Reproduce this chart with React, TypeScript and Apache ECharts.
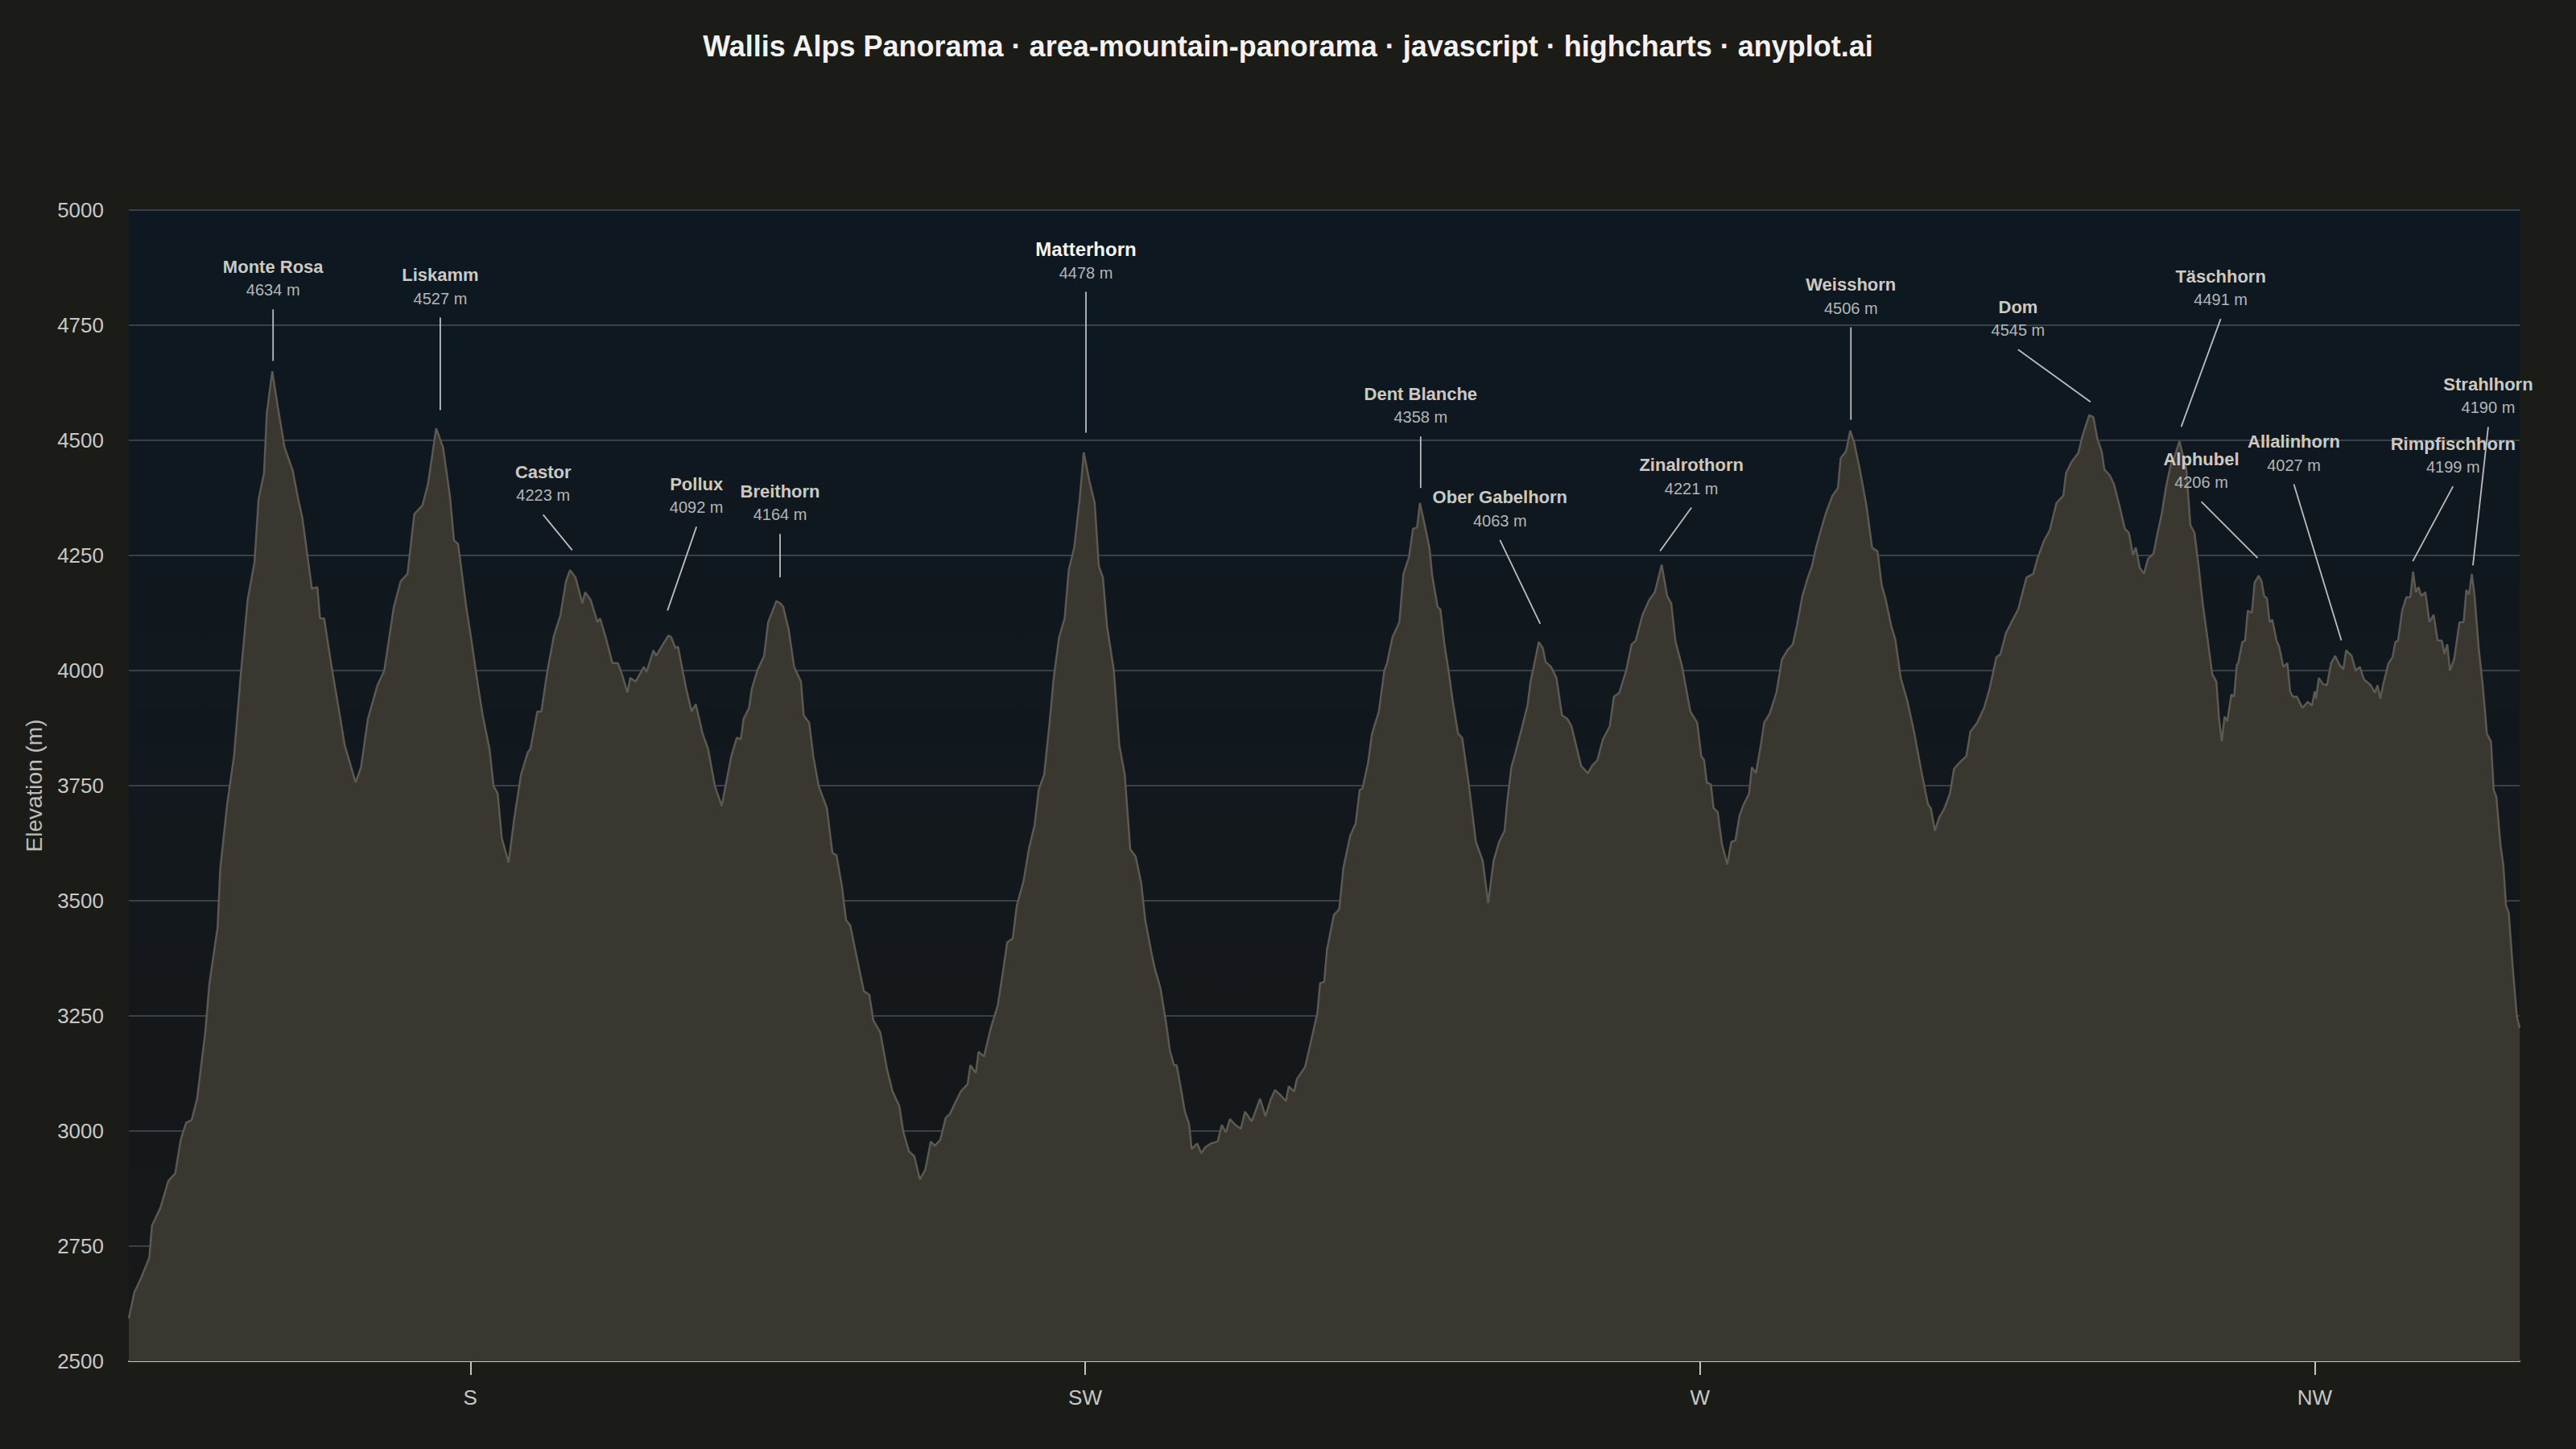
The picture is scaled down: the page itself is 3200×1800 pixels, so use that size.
import React, { useEffect, useRef } from "react";
import * as echarts from "echarts";

// Horizon profile: azimuth (degrees) and ridge elevation (m)
const AZIMUTH = [
  155.0, 155.4, 155.9, 156.5, 156.7, 157.3, 157.9, 158.4, 158.8, 159.2, 159.6, 160.0, 160.6, 160.9, 161.5, 161.7,
  162.2, 162.7, 163.2, 163.7, 164.2, 164.5, 164.9, 165.1, 165.5, 165.9, 166.4, 167.0, 167.4, 167.7, 168.4, 168.8,
  169.0, 169.3, 169.8, 170.4, 170.8, 171.2, 171.6, 172.0, 172.5, 173.2, 173.7, 174.4, 174.9, 175.4, 175.9, 176.5,
  176.9, 177.5, 178.0, 178.5, 178.8, 179.1, 179.7, 180.0, 180.6, 180.9, 181.4, 181.7, 182.0, 182.3, 182.8, 183.2,
  183.7, 184.2, 184.4, 184.9, 185.2, 185.6, 186.1, 186.6, 187.0, 187.3, 187.7, 188.2, 188.4, 188.8, 189.3, 189.5,
  189.9, 190.4, 190.8, 191.1, 191.5, 191.7, 192.1, 192.7, 192.9, 193.4, 193.6, 194.1, 194.5, 194.7, 195.0, 195.2,
  195.8, 196.2, 196.5, 197.0, 197.4, 197.9, 198.4, 199.1, 199.5, 199.8, 200.0, 200.4, 200.6, 201.0, 201.5, 201.8,
  202.4, 202.7, 202.9, 203.3, 203.7, 204.2, 204.4, 204.8, 205.1, 205.5, 206.1, 206.5, 206.8, 207.2, 207.5, 207.8,
  208.4, 208.8, 209.2, 209.5, 210.0, 210.5, 210.9, 211.4, 211.7, 212.1, 212.5, 212.9, 213.3, 213.7, 214.0, 214.4,
  214.8, 215.1, 215.5, 215.9, 216.4, 216.6, 217.0, 217.2, 217.6, 218.1, 218.6, 218.9, 219.3, 219.7, 220.0, 220.5,
  220.9, 221.3, 221.6, 222.0, 222.4, 222.7, 223.1, 223.5, 223.8, 224.2, 224.6, 224.9, 225.3, 225.7, 226.0, 226.3,
  226.6, 227.1, 227.5, 227.9, 228.3, 228.7, 229.1, 229.4, 229.9, 230.1, 230.5, 230.9, 231.2, 231.5, 231.7, 232.0,
  232.3, 232.6, 232.8, 233.2, 233.5, 233.8, 234.2, 234.7, 235.0, 235.3, 235.6, 236.0, 236.4, 236.7, 237.2, 237.8,
  238.2, 238.6, 238.9, 239.3, 239.7, 239.9, 240.3, 240.5, 241.1, 241.5, 242.0, 242.2, 242.5, 242.7, 243.2, 243.6,
  243.9, 244.4, 244.8, 245.1, 245.3, 245.7, 246.0, 246.5, 246.9, 247.1, 247.5, 248.0, 248.3, 248.7, 249.0, 249.3,
  249.5, 249.8, 250.2, 250.4, 250.8, 251.0, 251.3, 251.6, 251.9, 252.3, 252.6, 253.1, 253.6, 254.1, 254.5, 254.9,
  255.3, 255.7, 255.9, 256.2, 256.5, 257.0, 257.4, 257.6, 258.0, 258.2, 258.5, 258.7, 259.1, 259.5, 259.9, 260.3,
  260.6, 261.0, 261.3, 261.8, 262.1, 262.5, 262.9, 263.4, 263.7, 264.1, 264.6, 265.0, 265.3, 265.8, 266.3, 266.7,
  267.2, 267.6, 267.9, 268.2, 268.7, 269.3, 269.8, 270.1, 270.3, 270.5, 270.8, 271.0, 271.3, 271.6, 272.0, 272.3,
  272.6, 272.9, 273.2, 273.6, 273.8, 274.1, 274.5, 274.7, 275.1, 275.6, 276.0, 276.4, 276.8, 277.1, 277.5, 277.9,
  278.2, 278.5, 278.8, 279.2, 279.7, 280.1, 280.3, 280.7, 281.0, 281.3, 281.7, 282.2, 282.6, 283.0, 283.3, 283.6,
  284.0, 284.3, 284.7, 285.2, 285.7, 286.2, 286.7, 286.9, 287.2, 287.5, 287.9, 288.3, 288.6, 289.1, 289.5, 289.8,
  290.3, 290.8, 291.2, 291.7, 292.0, 292.4, 292.8, 293.3, 293.9, 294.4, 294.7, 295.2, 295.6, 296.1, 296.6, 296.8,
  297.2, 297.7, 298.0, 298.5, 298.8, 299.1, 299.4, 299.6, 300.0, 300.3, 300.7, 301.1, 301.4, 301.7, 301.9, 302.2,
  302.5, 302.8, 303.2, 303.5, 303.8, 304.1, 304.5, 304.7, 305.1, 305.6, 305.9, 306.2, 306.5, 306.8, 307.1, 307.5,
  307.8, 308.0, 308.2, 308.4, 308.6, 308.9, 309.1, 309.3, 309.4, 309.7, 309.9, 310.1, 310.4, 310.6, 310.9, 311.1,
  311.3, 311.5, 311.7, 311.9, 312.2, 312.4, 312.7, 313.0, 313.2, 313.4, 313.7, 314.1, 314.5, 314.8, 315.0, 315.1,
  315.3, 315.6, 315.9, 316.2, 316.5, 316.8, 317.1, 317.3, 317.7, 318.0, 318.3, 318.6, 319.1, 319.4, 319.6, 319.8,
  320.0, 320.4, 320.7, 320.9, 321.1, 321.4, 321.7, 322.0, 322.2, 322.4, 322.6, 322.8, 323.1, 323.4, 323.7, 324.0,
  324.3, 324.5, 324.7, 324.9, 325.2, 325.6, 325.9, 326.1, 326.3, 326.5, 326.7, 327.0, 327.3, 327.6, 327.9, 328.1,
  328.3, 328.6, 328.8, 329.0, 329.2, 329.5, 329.8, 330.0,
];

const ELEVATION = [
  2593, 2649, 2681, 2725, 2795, 2832, 2892, 2908, 2981, 3018, 3024, 3070, 3215, 3320, 3442, 3571,
  3709, 3814, 3992, 4154, 4235, 4372, 4429, 4558, 4650, 4574, 4485, 4434, 4372, 4332, 4178, 4181,
  4113, 4113, 4016, 3911, 3838, 3798, 3757, 3790, 3895, 3968, 4000, 4138, 4194, 4210, 4340, 4359,
  4405, 4526, 4485, 4380, 4283, 4275, 4138, 4081, 3960, 3903, 3830, 3749, 3733, 3636, 3583, 3676,
  3773, 3822, 3830, 3911, 3911, 3992, 4073, 4121, 4194, 4218, 4202, 4146, 4170, 4154, 4105, 4113,
  4073, 4016, 4016, 3992, 3952, 3984, 3976, 4008, 3997, 4044, 4032, 4057, 4076, 4073, 4049, 4052,
  3960, 3911, 3927, 3863, 3830, 3749, 3706, 3814, 3854, 3851, 3895, 3919, 3960, 4000, 4032, 4105,
  4151, 4146, 4138, 4089, 4008, 3976, 3903, 3887, 3814, 3749, 3701, 3604, 3599, 3531, 3458, 3447,
  3361, 3304, 3296, 3240, 3215, 3134, 3086, 3054, 2997, 2956, 2945, 2895, 2916, 2977, 2968, 2981,
  3029, 3037, 3062, 3086, 3102, 3143, 3126, 3172, 3162, 3224, 3272, 3329, 3410, 3418, 3490, 3544,
  3615, 3664, 3741, 3774, 3887, 3984, 4073, 4113, 4218, 4267, 4372, 4474, 4413, 4364, 4227, 4202,
  4097, 4000, 3838, 3774, 3612, 3596, 3539, 3458, 3380, 3353, 3312, 3240, 3175, 3143, 3143, 3094,
  3042, 3016, 2961, 2973, 2952, 2965, 2973, 2977, 3013, 2997, 3026, 3013, 3005, 3042, 3021, 3070,
  3032, 3070, 3089, 3078, 3065, 3097, 3086, 3113, 3139, 3191, 3256, 3321, 3324, 3393, 3469, 3482,
  3571, 3641, 3668, 3741, 3744, 3798, 3863, 3911, 4000, 4016, 4073, 4105, 4210, 4246, 4308, 4311,
  4364, 4324, 4267, 4207, 4138, 4133, 4057, 4000, 3935, 3863, 3854, 3749, 3628, 3587, 3495, 3587,
  3628, 3652, 3717, 3790, 3822, 3879, 3927, 3976, 4032, 4062, 4049, 4019, 4008, 3984, 3903, 3895,
  3879, 3830, 3793, 3777, 3793, 3806, 3851, 3879, 3943, 3952, 4000, 4057, 4065, 4121, 4154, 4170,
  4230, 4162, 4146, 4065, 4008, 3911, 3887, 3814, 3806, 3757, 3753, 3701, 3693, 3625, 3579, 3628,
  3631, 3685, 3709, 3733, 3790, 3777, 3846, 3887, 3906, 3952, 4024, 4044, 4057, 4097, 4162, 4202,
  4227, 4267, 4299, 4340, 4380, 4396, 4461, 4477, 4521, 4494, 4437, 4356, 4267, 4259, 4186, 4154,
  4097, 4068, 3984, 3932, 3863, 3782, 3709, 3701, 3652, 3680, 3701, 3733, 3787, 3803, 3814, 3867,
  3887, 3919, 3960, 4029, 4036, 4081, 4105, 4133, 4202, 4210, 4243, 4283, 4304, 4364, 4380, 4429,
  4453, 4473, 4510, 4555, 4550, 4502, 4477, 4437, 4424, 4405, 4359, 4308, 4299, 4251, 4267, 4223,
  4210, 4243, 4254, 4299, 4340, 4396, 4453, 4461, 4498, 4437, 4316, 4299, 4227, 4146, 4081, 3992,
  3976, 3895, 3846, 3900, 3890, 3948, 3943, 4013, 4016, 4062, 4065, 4130, 4125, 4191, 4206, 4194,
  4162, 4157, 4105, 4110, 4065, 4052, 4008, 4016, 3955, 3943, 3943, 3919, 3932, 3924, 3955, 3939,
  3984, 3971, 3968, 4016, 4032, 4013, 4003, 4044, 4032, 4000, 4008, 3981, 3968, 3952, 3968, 3939,
  3968, 4016, 4029, 4062, 4065, 4130, 4159, 4159, 4215, 4170, 4181, 4162, 4170, 4105, 4121, 4065,
  4065, 4036, 4057, 4000, 4024, 4105, 4105, 4175, 4165, 4210, 4162, 4049, 3968, 3863, 3846, 3741,
  3725, 3620, 3579, 3490, 3474, 3353, 3248, 3224,
];

// Named summits
const PEAK_NAMES = [
  "Monte Rosa", "Liskamm", "Castor", "Pollux", "Breithorn", "Matterhorn", "Dent Blanche", "Ober Gabelhorn",
  "Zinalrothorn", "Weisshorn", "Dom", "Täschhorn", "Alphubel", "Allalinhorn", "Rimpfischhorn", "Strahlhorn",
];
const PEAK_ELEVATIONS = [4634, 4527, 4223, 4092, 4164, 4478, 4358, 4063, 4221, 4506, 4545, 4491, 4206, 4027, 4199, 4190];
const PEAK_AZIMUTHS = [165.56, 177.8, 187.45, 194.43, 202.67, 225.06, 249.56, 258.31, 267.08, 281.05, 298.59, 305.23, 310.82, 316.95, 322.18, 326.58];

// Label placement (pixel offsets of the label from its summit point)
const LABEL_DX = [0, 0, -36, 36, 0, 0, 0, -50, 39, 0, -90, 49, -70, -59, 50, 19];
const LABEL_DY = [-139, -190, -119, -179, -129, -250, -139, -179, -129, -190, -140, -209, -145, -269, -168, -247];

const COMPASS: Record<number, string> = { 180: "S", 225: "SW", 270: "W", 315: "NW" };
const COMPASS_TICKS = [180, 225, 270, 315];

const FONT = '"Liberation Sans", Arial, Helvetica, sans-serif';

export default function App() {
  const ref = useRef<HTMLDivElement>(null);

  useEffect(() => {
    document.body.style.margin = "0";
    document.body.style.background = "#1b1b17";
    const chart = echarts.init(ref.current as HTMLDivElement, null, { renderer: "svg" });

    const profile = AZIMUTH.map((a, i) => [a, ELEVATION[i]]);
    const peaks = PEAK_NAMES.map((_, i) => [PEAK_AZIMUTHS[i], PEAK_ELEVATIONS[i], i]);

    chart.setOption({
      animation: false,
      backgroundColor: "#1b1b17",
      title: {
        text: "Wallis Alps Panorama · area-mountain-panorama · javascript · highcharts · anyplot.ai",
        left: "center",
        top: 34,
        textStyle: { color: "#f2f2f2", fontSize: 36, fontWeight: "bold", fontFamily: FONT },
      },
      grid: {
        left: 160,
        right: 70,
        top: 261,
        bottom: 109,
        show: true,
        borderWidth: 0,
        backgroundColor: new echarts.graphic.LinearGradient(0, 0, 0, 1, [
          { offset: 0, color: "#0d1822" },
          { offset: 1, color: "#171818" },
        ]),
      },
      xAxis: {
        type: "value",
        min: 155,
        max: 330,
        axisLine: { show: true, lineStyle: { color: "#c4c4bc", width: 2 } },
        axisTick: {
          show: true,
          customValues: COMPASS_TICKS,
          length: 17,
          lineStyle: { color: "#c4c4bc", width: 2 },
        },
        axisLabel: {
          customValues: COMPASS_TICKS,
          formatter: (v: number) => COMPASS[Math.round(v)] ?? "",
          color: "#c8c8c8",
          fontSize: 26,
          fontFamily: FONT,
          margin: 32,
        },
        splitLine: { show: false },
      },
      yAxis: {
        type: "value",
        min: 2500,
        max: 5000,
        interval: 250,
        name: "Elevation (m)",
        nameLocation: "middle",
        nameGap: 104,
        nameTextStyle: { color: "#bdbdbd", fontSize: 28, fontFamily: FONT },
        axisLine: { show: false },
        axisTick: { show: false },
        axisLabel: {
          color: "#c8c8c8",
          fontSize: 26,
          fontFamily: FONT,
          margin: 31,
          formatter: (v: number) => String(v),
        },
        splitLine: { show: true, lineStyle: { color: "#394047", width: 2 } },
      },
      series: [
        {
          type: "line",
          data: profile,
          showSymbol: false,
          symbol: "none",
          smooth: false,
          lineStyle: { color: "#5c5952", width: 2.5 },
          areaStyle: { color: "#3a3731", opacity: 1, origin: "start" },
          z: 2,
        },
        {
          type: "custom",
          data: peaks,
          encode: { x: 0, y: 1 },
          clip: false,
          z: 5,
          renderItem: (_params: any, api: any) => {
            const i = api.value(2);
            const p = api.coord([api.value(0), api.value(1)]);
            const lx = p[0] + LABEL_DX[i];
            const ly = p[1] + LABEL_DY[i];
            const main = PEAK_NAMES[i] === "Matterhorn";
            return {
              type: "group",
              children: [
                {
                  type: "line",
                  shape: { x1: lx, y1: ly + 53, x2: p[0], y2: p[1] - 22 },
                  style: { stroke: "#bdbdbd", lineWidth: 1.8 },
                },
                {
                  type: "text",
                  x: lx,
                  y: ly,
                  style: {
                    text: PEAK_NAMES[i],
                    fill: main ? "#f4f4f4" : "#cdc9c0",
                    fontSize: main ? 24 : 22,
                    fontWeight: "bold",
                    fontFamily: FONT,
                    align: "center",
                    verticalAlign: "middle",
                  },
                },
                {
                  type: "text",
                  x: lx,
                  y: ly + 29,
                  style: {
                    text: `${PEAK_ELEVATIONS[i]} m`,
                    fill: "#b3b5b7",
                    fontSize: 20,
                    fontFamily: FONT,
                    align: "center",
                    verticalAlign: "middle",
                  },
                },
              ],
            };
          },
        },
      ],
    });

    return () => chart.dispose();
  }, []);

  return <div ref={ref} style={{ position: "fixed", left: 0, top: 0, width: 3200, height: 1800 }} />;
}
